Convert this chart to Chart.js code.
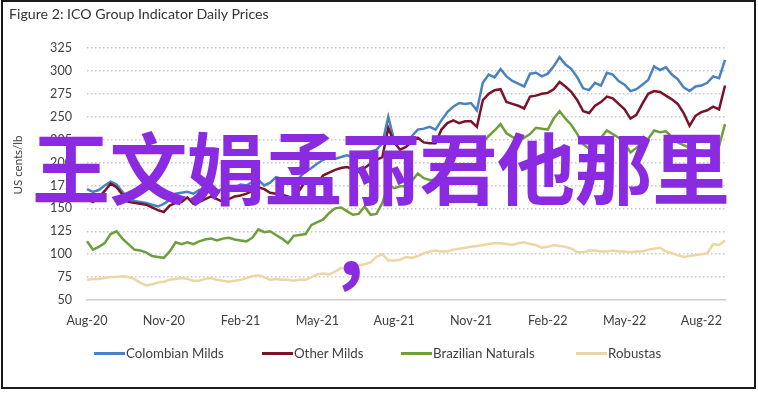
<!DOCTYPE html>
<html>
<head>
<meta charset="utf-8">
<script src="https://cdn.jsdelivr.net/npm/chart.js@4/dist/chart.umd.min.js"></script>
<style>
  html, body { margin: 0; padding: 0; background: #fff; }
  #wrap { position: relative; width: 758px; height: 393px; overflow: hidden; }
  #frame { position: absolute; left: 1px; top: 0px; width: 755px; height: 389px; box-sizing: border-box; border: 2px solid #1a1a1a; pointer-events: none; }
  #title { position: absolute; left: 9px; top: 5px; font: 14.2px Lato, sans-serif; color: #333; white-space: nowrap; }
  #ytitle { position: absolute; left: 17px; top: 165px; width: 0; height: 0; }
  #ytitle span { position: absolute; left: 0; top: 0; transform: translate(-50%, -50%) rotate(-90deg); font: 11.5px Lato, sans-serif; color: #404040; white-space: nowrap; }
  #chart { position: absolute; left: 0; top: 0; }
  #legend { position: absolute; left: 0; top: 344px; width: 758px; height: 18px; font: 13.3px Lato, sans-serif; color: #404040; }
  .li { position: absolute; top: 0; white-space: nowrap; line-height: 18px; }
  .li i { display: inline-block; width: 31px; height: 3px; vertical-align: middle; margin-right: 1px; position: relative; top: -1px; }
  #overlay { position: absolute; left: 32px; top: 126px; font: 700 78px "Noto Sans CJK SC", sans-serif; color: #8a2be2; line-height: 1; white-space: nowrap; letter-spacing: -0.5px; }
  #comma { position: absolute; left: 338px; top: 200px; font: 700 80px "Noto Sans CJK SC", sans-serif; color: #8a2be2; line-height: 1; }
</style>
</head>
<body>
<div id="wrap">
  <canvas id="chart" width="758" height="393"></canvas>
  <div id="title">Figure 2: ICO Group Indicator Daily Prices</div>
  <div id="ytitle"><span>US cents/lb</span></div>
  <div id="legend"></div>
  <div id="overlay">王文娟孟丽君他那里</div>
  <div id="comma">,</div>
  <div id="frame"></div>
</div>
<script>
// Weekly observation dates (categories)
const weeks = [
  '2020-08-03','2020-08-10','2020-08-17','2020-08-24','2020-08-31','2020-09-07','2020-09-14','2020-09-21','2020-09-28','2020-10-05','2020-10-12','2020-10-19','2020-10-26','2020-11-02','2020-11-09','2020-11-16','2020-11-23','2020-11-30','2020-12-07','2020-12-14','2020-12-21','2020-12-28',
  '2021-01-04','2021-01-11','2021-01-18','2021-01-25','2021-02-01','2021-02-08','2021-02-15','2021-02-22','2021-03-01','2021-03-08','2021-03-15','2021-03-22','2021-03-29','2021-04-05','2021-04-12','2021-04-19','2021-04-26','2021-05-03','2021-05-10','2021-05-17','2021-05-24','2021-05-31','2021-06-07','2021-06-14','2021-06-21','2021-06-28','2021-07-05','2021-07-12','2021-07-19','2021-07-26','2021-08-02','2021-08-09','2021-08-16','2021-08-23','2021-08-30','2021-09-06','2021-09-13','2021-09-20','2021-09-27','2021-10-04','2021-10-11','2021-10-18','2021-10-25','2021-11-01','2021-11-08','2021-11-15','2021-11-22','2021-11-29','2021-12-06','2021-12-13','2021-12-20','2021-12-27',
  '2022-01-03','2022-01-10','2022-01-17','2022-01-24','2022-01-31','2022-02-07','2022-02-14','2022-02-21','2022-02-28','2022-03-07','2022-03-14','2022-03-21','2022-03-28','2022-04-04','2022-04-11','2022-04-18','2022-04-25','2022-05-02','2022-05-09','2022-05-16','2022-05-23','2022-05-30','2022-06-06','2022-06-13','2022-06-20','2022-06-27','2022-07-04','2022-07-11','2022-07-18','2022-07-25','2022-08-01','2022-08-08','2022-08-15','2022-08-22','2022-08-29'
];

// Tick labels shown every 13 weeks (quarterly)
const tickLabels = ['Aug-20','Nov-20','Feb-21','May-21','Aug-21','Nov-21','Feb-22','May-22','Aug-22'];
const tickEvery = 13;

// Y ticks
const yMin = 50, yMax = 325, yStep = 25;

// Series values, US cents/lb
const colombianMilds = [
  171,168,170,175,179,176,168,161,158,157,156,154,152,155,159,166,167,168,166,170,171,173,169,171,170,173,176,175,179,181,
  175,178,184,182,179,176,184,190,194,199,203,206,204,206,208,206,205,209,212,214,221,250,224,225,221,229,236,237,239,236,
  246,255,261,265,264,265,257,287,296,293,302,294,289,286,283,297,298,294,297,305,315,307,302,293,281,279,287,284,298,296,
  289,285,278,280,285,290,305,301,304,296,291,282,278,283,284,287,294,292,312
];
const otherMilds = [
  160,157,162,169,177,173,165,157,156,155,154,151,148,146,153,156,157,162,155,157,160,163,160,157,160,163,164,166,169,173,
  171,167,166,165,163,160,170,180,179,178,186,189,192,194,195,193,190,194,199,203,206,238,222,214,217,223,227,222,221,221,
  236,243,246,243,245,245,239,268,275,279,280,266,264,262,259,272,273,275,276,280,288,283,277,268,256,254,262,266,272,270,
  264,258,248,252,264,275,278,277,273,269,264,254,240,251,255,257,261,258,284
];
const brazilianNaturals = [
  114,105,108,112,122,125,117,111,105,104,102,98,97,96,103,113,111,113,111,114,116,117,115,117,118,116,115,114,118,127,
  124,125,121,117,112,120,121,122,132,135,138,145,150,151,147,143,144,152,143,144,156,176,172,174,174,180,188,183,181,181,
  188,198,216,210,210,211,213,222,229,235,242,232,228,225,227,231,238,237,236,248,256,248,241,231,220,215,219,227,235,231,
  227,221,211,216,222,226,235,233,234,228,222,219,216,214,213,210,206,218,242
];
const robustas = [
  72,73,73,74,75,75,76,75,73,69,66,67,69,70,72,73,74,73,71,71,73,74,72,71,70,71,72,74,76,77,
  75,72,73,72,72,71,72,72,75,78,79,78,81,85,83,85,88,89,91,97,100,93,93,94,97,96,98,101,103,104,
  103,103,105,106,107,108,109,110,111,112,112,111,110,112,113,111,110,107,108,110,109,108,106,102,102,104,104,103,103,104,
  103,103,102,103,103,105,106,107,103,101,99,97,98,99,100,101,111,110,115
];

const seriesNames = ['Colombian Milds','Other Milds','Brazilian Naturals','Robustas'];
const seriesColors = ['#4a81c0','#7a1329','#6f9e3c','#ecd6a3'];
const seriesData = [colombianMilds, otherMilds, brazilianNaturals, robustas];

const tickFont = { family: 'Lato, sans-serif', size: 12.6 };

const datasets = seriesNames.map((name, k) => ({
  label: name,
  data: seriesData[k],
  borderColor: seriesColors[k],
  backgroundColor: seriesColors[k],
  borderWidth: 2.5,
  pointRadius: 0,
  tension: 0,
  fill: false,
  order: 4 - k
}));

new Chart(document.getElementById('chart'), {
  type: 'line',
  data: { labels: weeks, datasets },
  options: {
    responsive: false,
    animation: false,
    devicePixelRatio: 1,
    layout: { padding: { left: 6, right: 33, top: 48, bottom: 63 } },
    plugins: { legend: { display: false }, tooltip: { enabled: false }, title: { display: false } },
    scales: {
      x: {
        type: 'category',
        grid: { display: false, drawTicks: false },
        border: { display: true, color: '#d0d0d0', width: 1.5 },
        ticks: {
          autoSkip: false, maxRotation: 0, minRotation: 0, padding: 13,
          color: '#404040', font: tickFont,
          callback: (v, i) => (i % tickEvery === 0 && tickLabels[i / tickEvery]) ? tickLabels[i / tickEvery] : null
        },
        afterFit: s => { s.height = 30; }
      },
      y: {
        min: yMin, max: yMax,
        ticks: { stepSize: yStep, padding: 15, color: '#404040', font: tickFont },
        grid: { color: '#c8c8c8', lineWidth: 1.5, drawTicks: false },
        border: { display: false, dash: [1.5, 2.5] },
        title: { display: false },
        afterFit: s => { s.width = 81; }
      }
    }
  }
});

// HTML legend
const legendLeft = [94, 262, 401, 576];
const lg = document.getElementById('legend');
seriesNames.forEach((name, k) => {
  const d = document.createElement('div');
  d.className = 'li';
  d.style.left = legendLeft[k] + 'px';
  const sw = document.createElement('i');
  sw.style.background = seriesColors[k];
  d.appendChild(sw);
  d.appendChild(document.createTextNode(name));
  lg.appendChild(d);
});
</script>
</body>
</html>
